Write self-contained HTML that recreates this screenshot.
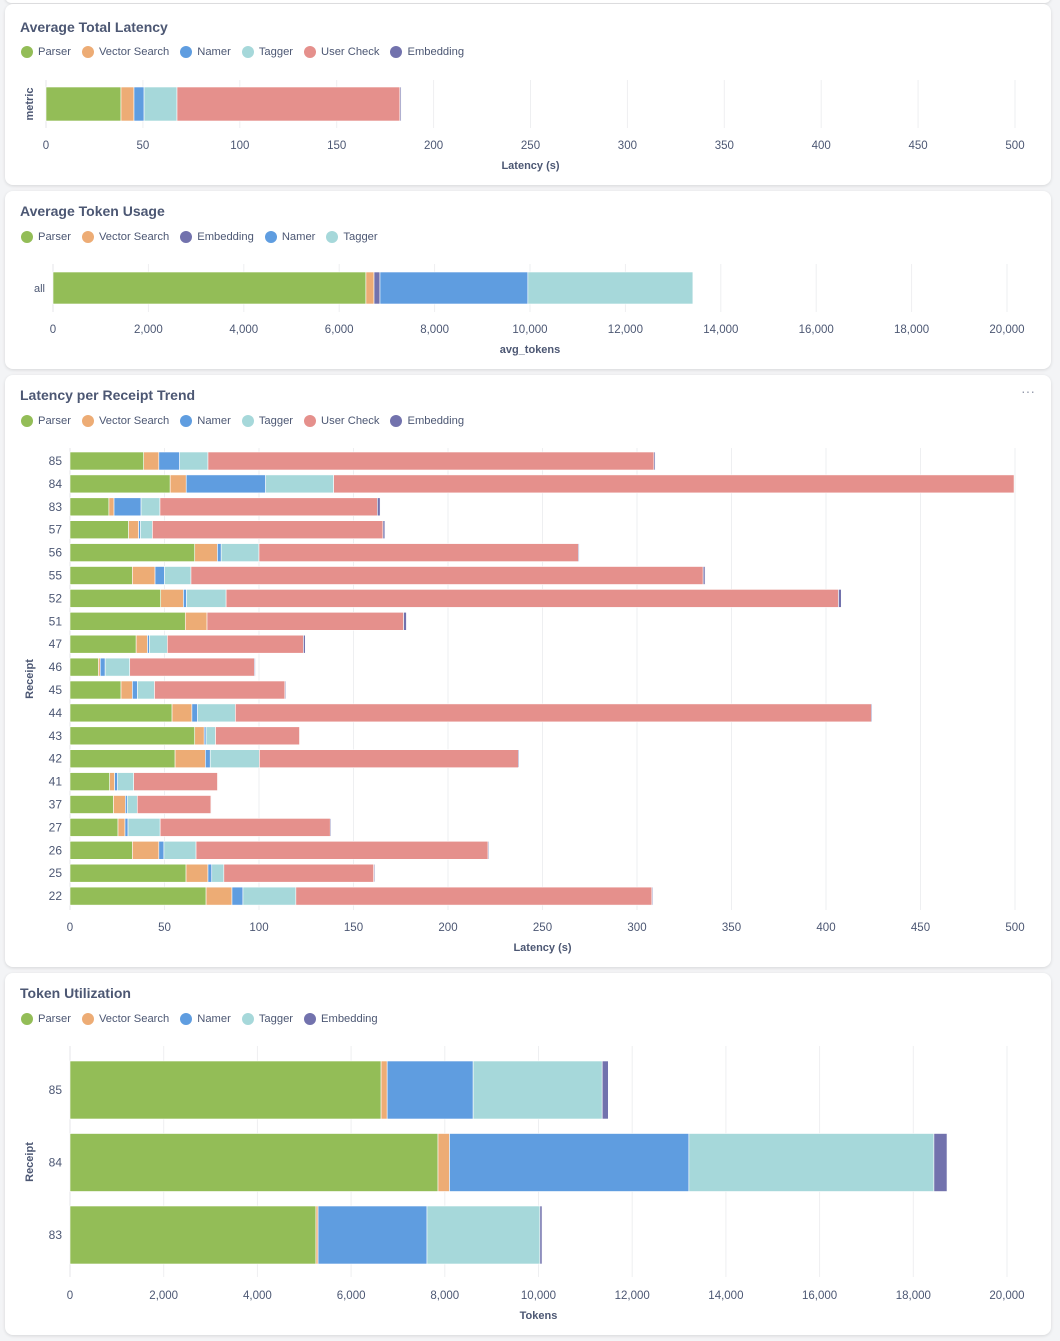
<!DOCTYPE html>
<html><head><meta charset="utf-8"><style>
body{margin:0;width:1060px;height:1341px;background:#f3f4f6;font-family:"Liberation Sans",sans-serif;position:relative;overflow:hidden}
.card{position:absolute;left:5px;width:1046px;background:#fff;border-radius:8px;box-shadow:0 1px 3px rgba(0,0,0,.12)}
.title{position:absolute;left:15px;font-size:14px;font-weight:bold;color:#4c5773}
.legend{position:absolute;left:16px;display:flex;gap:11px;font-size:11.2px;color:#4c5773;align-items:center}
.li{display:flex;align-items:center;gap:5px}
.dot{width:12px;height:12px;border-radius:50%}
svg{position:absolute;left:0;top:0}
svg text{font-family:"Liberation Sans",sans-serif;fill:#4c5773}
</style></head><body>
<div class="card" style="top:-10px;height:13px"></div>
<div class="card" style="top:4px;height:181px">
 <div class="title" style="top:15px">Average Total Latency</div>
 <div class="legend" id="lg1" style="top:42px"></div></div>
<div class="card" style="top:191px;height:178px">
 <div class="title" style="top:12px">Average Token Usage</div>
 <div class="legend" id="lg2" style="top:40px"></div></div>
<div class="card" style="top:375px;height:592px">
 <div class="title" style="top:12px">Latency per Receipt Trend</div>
 <div style="position:absolute;right:16px;top:8px;color:#949aab;font-size:14px">···</div>
 <div class="legend" id="lg3" style="top:40px"></div></div>
<div class="card" style="top:973px;height:362px">
 <div class="title" style="top:12px">Token Utilization</div>
 <div class="legend" id="lg4" style="top:40px"></div></div>
<svg id="s" width="1060" height="1341"></svg>
<script>
const COL={"Parser":"#93bd57","Vector Search":"#edac75","Namer":"#5f9de0","Tagger":"#a6d8da","User Check":"#e5908c","Embedding":"#7272ad"};
// Chart 1
const c1Series=["Parser","Vector Search","Namer","Tagger","User Check","Embedding"];
const c1Cats=["metric"];
const c1Parser=[38.7],c1Vector=[6.7],c1Namer=[5.2],c1Tagger=[17],c1User=[115],c1Emb=[0.6];
const c1Ticks=[0,50,100,150,200,250,300,350,400,450,500];
// Chart 2
const c2Series=["Parser","Vector Search","Embedding","Namer","Tagger"];
const c2Cats=["all"];
const c2Parser=[6560],c2Vector=[170],c2Emb=[125],c2Namer=[3100],c2Tagger=[3460];
const c2Ticks=[0,2000,4000,6000,8000,10000,12000,14000,16000,18000,20000];
// Chart 3
const c3Series=["Parser","Vector Search","Namer","Tagger","User Check","Embedding"];
const c3Cats=["85","84","83","57","56","55","52","51","47","46","45","44","43","42","41","37","27","26","25","22"];
const c3Parser=[39,53,20.6,31,66,33,48,61,35,15,27,54,66,55.6,21,23,25.4,33,61.4,72];
const c3Vector=[8,8.5,2.7,5.3,12,12,12,11.5,6,1,6,10.5,5,16,2.6,6.3,3.7,14,11.6,13.7];
const c3Namer=[11,42,14.3,1,2,5,1.6,0,1,2.6,2.7,3,1,2.6,1.6,1,1.6,2.7,2,5.8];
const c3Tagger=[15,36,10,6.3,20,14,21,0,9.5,13,9,20,5,26,8.5,5.3,17,17,6.4,28];
const c3User=[236,360,115,122,169,271,324,104,72,66,69,336.5,44.5,137,44.4,39,90,154.5,79.3,188.4];
const c3Emb=[0.7,0,1.5,1,0.5,1,1.5,1.5,1,0.5,0.5,0.5,0.3,0.5,0.3,0.3,0.5,0.5,0.5,0.5];
const c3Ticks=[0,50,100,150,200,250,300,350,400,450,500];
// Chart 4
const c4Series=["Parser","Vector Search","Namer","Tagger","Embedding"];
const c4Cats=["85","84","83"];
const c4Parser=[6640,7855,5250],c4Vector=[130,245,45],c4Namer=[1835,5110,2325],c4Tagger=[2755,5230,2410],c4Emb=[130,280,45];
const c4Ticks=[0,2000,4000,6000,8000,10000,12000,14000,16000,18000,20000];

const S=document.getElementById('s');const NS="http://www.w3.org/2000/svg";
function mk(t,a,txt){const e=document.createElementNS(NS,t);for(const k in a)e.setAttribute(k,a[k]);if(txt!=null)e.textContent=txt;S.appendChild(e);return e;}
function legend(id,series){const L=document.getElementById(id);series.forEach(s=>{const d=document.createElement('div');d.className='li';


d.innerHTML='<span class="dot" style="background:'+COL[s]+'"></span>'+s;L.appendChild(d);});}
function chart(o){
 const x=v=>o.x0+(v-o.ticks[0])/(o.ticks[o.ticks.length-1]-o.ticks[0])*(o.x1-o.x0);
 o.ticks.forEach(t=>{const g=mk('line',{x1:x(t),x2:x(t),y1:o.gTop,y2:o.gBot,stroke:'#eeeff1','stroke-width':1});
  
  
  const l=mk('text',{x:x(t),y:o.tickY,'text-anchor':'middle','font-size':11.5},t.toLocaleString('en-US'));
  
  });
 const base=mk('line',{x1:o.x0,x2:o.x0,y1:o.gTop,y2:o.gBot,stroke:'#e4e6ea'});
 
 
 o.cats.forEach((c,i)=>{const yc=o.y0+i*o.step;let acc=0;
  o.vals.forEach((arr,k)=>{const v=arr[i];if(v>0){const r=mk('rect',{x:x(acc),y:yc-o.bh/2,width:Math.max(0,x(acc+v)-x(acc)),height:o.bh,fill:COL[o.series[k]],stroke:'#fff','stroke-width':0.6});
   
   }acc+=v;});
  const l=mk('text',{x:o.labX,y:yc+4,'text-anchor':'end','font-size':o.catFont||12},c);
  
  });
 const xt=mk('text',{x:(o.x0+o.x1)/2,y:o.tickY+20,'text-anchor':'middle','font-size':11,'font-weight':'bold'},o.xTitle);
 
 
 if(o.yTitle){const yt=mk('text',{x:o.yTX,y:o.yTY,'text-anchor':'middle','font-size':11,'font-weight':'bold',transform:'rotate(-90 '+o.yTX+' '+o.yTY+')'},o.yTitle);
  
  }
}
legend('lg1',c1Series);legend('lg2',c2Series);legend('lg3',c3Series);legend('lg4',c4Series);
chart({series:c1Series,cats:[""],vals:[c1Parser,c1Vector,c1Namer,c1Tagger,c1User,c1Emb],ticks:c1Ticks,x0:46,x1:1015,gTop:80,gBot:128,y0:104,step:0,bh:34,labX:38,tickY:149,xTitle:"Latency (s)",yTitle:c1Cats[0],yTX:33,yTY:104});
chart({series:c2Series,cats:c2Cats,vals:[c2Parser,c2Vector,c2Emb,c2Namer,c2Tagger],ticks:c2Ticks,x0:53,x1:1007,gTop:264,gBot:312,y0:288,step:0,bh:32,labX:45,tickY:333,xTitle:"avg_tokens",catFont:11});
chart({series:c3Series,cats:c3Cats,vals:[c3Parser,c3Vector,c3Namer,c3Tagger,c3User,c3Emb],ticks:c3Ticks,x0:70,x1:1015,gTop:448,gBot:910,y0:461,step:22.9,bh:18,labX:62,tickY:931,xTitle:"Latency (s)",yTitle:"Receipt",yTX:33,yTY:679});
chart({series:c4Series,cats:c4Cats,vals:[c4Parser,c4Vector,c4Namer,c4Tagger,c4Emb],ticks:c4Ticks,x0:70,x1:1007,gTop:1046,gBot:1277,y0:1090,step:72.5,bh:58,labX:62,tickY:1299,xTitle:"Tokens",yTitle:"Receipt",yTX:33,yTY:1162});
</script></body></html>
